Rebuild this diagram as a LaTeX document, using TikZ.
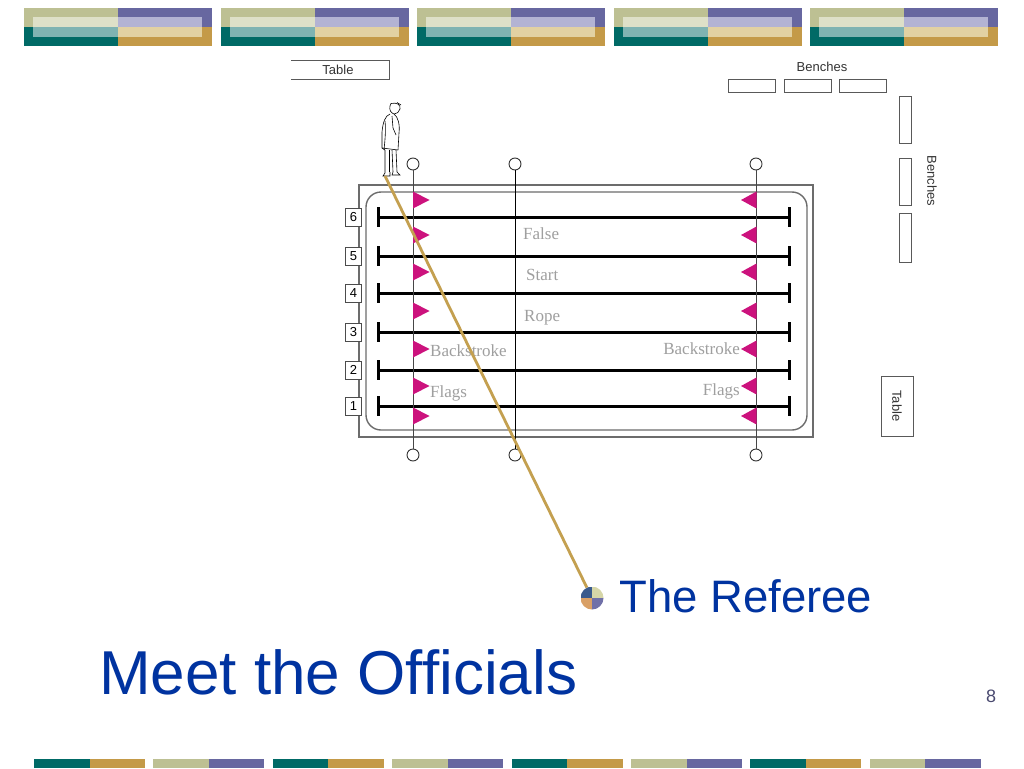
\documentclass[tikz,border=0pt]{standalone}
\usepackage{fontspec}
\setmainfont{Liberation Sans}
\newfontfamily\poolserif{Liberation Serif}
\definecolor{bkhaki}{RGB}{189,192,147}
\definecolor{bteal}{RGB}{0,106,102}
\definecolor{bpurple}{RGB}{103,103,160}
\definecolor{bgold}{RGB}{196,154,72}
\definecolor{lkhaki}{RGB}{222,224,200}
\definecolor{lteal}{RGB}{127,179,178}
\definecolor{lpurple}{RGB}{179,179,211}
\definecolor{ltan}{RGB}{226,209,162}
\definecolor{flagc}{RGB}{204,18,125}
\definecolor{ropegold}{RGB}{196,160,80}
\definecolor{titleblue}{RGB}{0,51,160}
\definecolor{qblue}{RGB}{58,90,140}
\definecolor{qkhaki}{RGB}{214,214,168}
\definecolor{qtan}{RGB}{217,160,102}
\definecolor{qpurple}{RGB}{112,112,168}
\definecolor{pagegray}{RGB}{74,74,112}
\tikzset{
  poolline/.style={draw=gray!85!black, line width=1.4pt},
  lane/.style={draw=black, line width=3pt},
  lanetick/.style={draw=black, line width=3pt},
  numbox/.style={draw=gray!60!black, line width=0.9pt, fill=white, minimum width=16pt, minimum height=18pt, inner sep=0pt, font=\fontsize{13}{14}\selectfont},
  post/.style={circle, draw=gray!40!black, line width=0.9pt, minimum size=12pt, inner sep=0pt, fill=white},
  guide/.style={draw=gray!55!black, line width=1pt},
  flag/.style={fill=flagc},
  bench/.style={draw=gray!70!black, line width=0.9pt},
  pooltext/.style={font=\poolserif\fontsize{17}{18}\selectfont, text=gray!75, inner sep=0pt, anchor=base west},
  smalllabel/.style={font=\fontsize{13}{14}\selectfont, text=black!80, inner sep=0pt},
  figline/.style={draw=black, line width=0.6pt},
}
\begin{document}
\begin{tikzpicture}[x=1pt,y=-1pt]
\useasboundingbox (0,0) rectangle (1024,768);
\fill[white] (0,0) rectangle (1024,768);
% top banner
\foreach \x in {24,220.5,417,613.5,810} {
  \fill[bkhaki] (\x,8) rectangle ({\x+94},27);
  \fill[bteal] (\x,27) rectangle ({\x+94},46);
  \fill[bpurple] ({\x+94},8) rectangle ({\x+188},27);
  \fill[bgold] ({\x+94},27) rectangle ({\x+188},46);
  \fill[lkhaki] ({\x+9},17) rectangle ({\x+94},27);
  \fill[lteal] ({\x+9},27) rectangle ({\x+94},37);
  \fill[lpurple] ({\x+94},17) rectangle ({\x+178},27);
  \fill[ltan] ({\x+94},27) rectangle ({\x+178},37);
}
% bottom banner
\foreach \i in {0,...,7} {
  \pgfmathsetmacro{\bx}{34+119.4*\i}
  \ifodd\i
    \fill[bkhaki] (\bx,759) rectangle ({\bx+55.5},768);
    \fill[bpurple] ({\bx+55.5},759) rectangle ({\bx+111},768);
  \else
    \fill[bteal] (\bx,759) rectangle ({\bx+55.5},768);
    \fill[bgold] ({\bx+55.5},759) rectangle ({\bx+111},768);
  \fi
}
% top table
\draw[bench] (291,60) -- (389,60) -- (389,79) -- (291,79);
\node[smalllabel] (tabletop) at (338,69.5) {Table};
% benches
\node[smalllabel] (benchtxt) at (822,67) {Benches};
\draw[bench] (728,79) rectangle (775,92);
\draw[bench] (784,79) rectangle (831,92);
\draw[bench] (839,79) rectangle (886,92);
\draw[bench] (899,96) rectangle (911,143);
\draw[bench] (899,158) rectangle (911,205);
\draw[bench] (899,213) rectangle (911,262);
\node[smalllabel, rotate=-90] (benchtxt2) at (932,181) {Benches};
% right table
\draw[bench] (881,376) rectangle (913,436);
\node[smalllabel, rotate=-90] (tableright) at (897,406) {Table};
% pool
\draw[poolline] (359,185) rectangle (813,437);
\draw[poolline, rounded corners=15pt] (366,192) rectangle (807,430);
% lanes
\foreach \n/\y in {6/217,5/256,4/293,3/332,2/370,1/406} {
  \draw[lane] (378,\y) -- (789,\y);
  \draw[lanetick] (378,{\y-10}) -- (378,{\y+10});
  \draw[lanetick] (789,{\y-10}) -- (789,{\y+10});
  \node[numbox] (n\n) at (353.5,\y) {\n};
}
% guide lines with posts
\node[post] (pt1) at (413,164) {};
\node[post] (pb1) at (413,455) {};
\node[post] (pt2) at (515,164) {};
\node[post] (pb2) at (515,455) {};
\node[post] (pt3) at (756,164) {};
\node[post] (pb3) at (756,455) {};
\draw[guide] (pt1) -- (pb1);
\draw[draw=black, line width=1pt] (pt2) -- (pb2);
\draw[guide] (pt3) -- (pb3);
% flags
\foreach \y in {200,235,272,311,349,386,416} {
  \fill[flag] (413,{\y-8.5}) -- (429.5,\y) -- (413,{\y+8.5}) -- cycle;
  \fill[flag] (756.5,{\y-8.5}) -- (741,\y) -- (756.5,{\y+8.5}) -- cycle;
}
% pool labels
\node[pooltext] (tfalse) at (523,239) {False};
\node[pooltext] (tstart) at (526,280) {Start};
\node[pooltext] (trope) at (524,321) {Rope};
\node[pooltext] (tbackl) at (430,356) {Backstroke};
\node[pooltext] (tflagl) at (430,397) {Flags};
\node[pooltext, anchor=base east] (tbackr) at (740,354) {Backstroke};
\node[pooltext, anchor=base east] (tflagr) at (740,395) {Flags};
% person figure
\begin{scope}[figline]
  \draw (391,103.5) .. controls (397,102) and (401,105) .. (400,109) .. controls (399,112) and (397,114) .. (394,114) .. controls (391,113) and (389,110) .. (390,106) -- cycle;
  \draw (397,102.5) -- (401,105);
  \draw (390,114) .. controls (385,116) and (383,122) .. (382,132) -- (382,148) -- (385,150);
  \draw (394,114) .. controls (398,117) and (400,124) .. (399,133) -- (398,150);
  \draw (392,116) -- (393,128) -- (396,135);
  \draw (385,121) .. controls (386,130) and (385,140) .. (384,150);
  \draw (385,150) -- (385,173) -- (383,176) -- (390,176) -- (390,172);
  \draw (389,150) -- (389,172);
  \draw (392,150) -- (393,172) -- (392,175) -- (400,175) -- (397,172) -- (396,150);
  \draw (382,148) -- (398,150);
\end{scope}
% referee connector
\coordinate (feet) at (385,176);
\node[circle, minimum size=23pt, inner sep=0pt, path picture={
  \fill[qblue] (path picture bounding box.center) rectangle (path picture bounding box.north west);
  \fill[qkhaki] (path picture bounding box.center) rectangle (path picture bounding box.north east);
  \fill[qtan] (path picture bounding box.center) rectangle (path picture bounding box.south west);
  \fill[qpurple] (path picture bounding box.center) rectangle (path picture bounding box.south east);
}] (ref) at (592,598) {};
\draw[draw=ropegold, line width=2.8pt] (feet) -- (ref);
\node[anchor=base west, inner sep=0pt, text=titleblue, font=\fontsize{45.5}{50}\selectfont] (reftxt) at (619,612) {The Referee};
% title
\node[anchor=base west, inner sep=0pt, text=titleblue, font=\fontsize{62}{68}\selectfont] (title) at (99,694) {Meet the Officials};
\node[anchor=base west, inner sep=0pt, text=pagegray, font=\fontsize{18}{20}\selectfont] (pagenum) at (986,702) {8};
\end{tikzpicture}
\end{document}
